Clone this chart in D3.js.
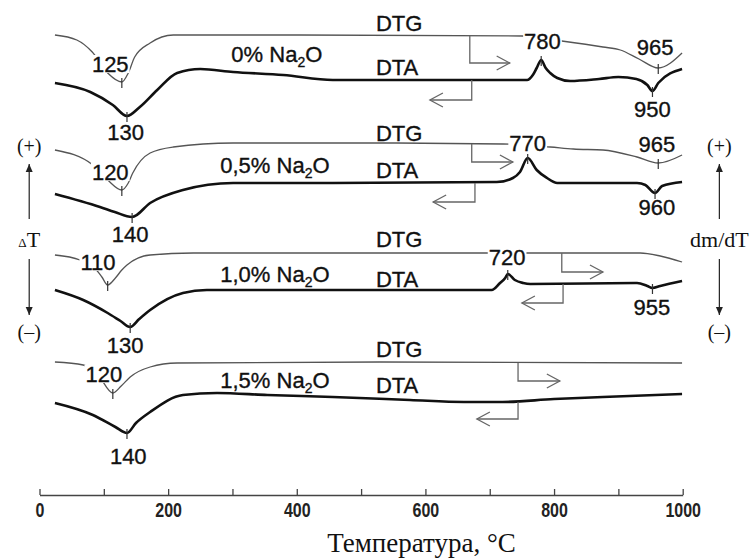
<!DOCTYPE html>
<html>
<head>
<meta charset="utf-8">
<script src="https://cdn.jsdelivr.net/npm/d3@7"></script>
<style>
    body { margin: 0; background: #fff; }
    svg { display: block; }
    .lbl { font-family: "Liberation Sans", Arial, sans-serif; font-size: 22px; fill: #111; stroke: #111; stroke-width: 0.35px; }
    .ser { font-family: "Liberation Serif", "Times New Roman", serif; fill: #111; }
</style>
</head>
<body>
<svg id="chart" width="753" height="559"></svg>
<script>
// temperature (°C), signal height above the axis (arbitrary units)
const dtg0 = [[24,460],[58,455],[82,443],[106,422],[128,413],[138,422],[148,438],[172,452],[208,460],[400,460],[750,459],[812,454],[876,448],[903,445],[932,436],[962,427],[999,442]];
const dta0 = [[24,412],[79,403],[114,390],[136,379],[156,388],[183,405],[214,422],[250,426],[301,423],[379,420],[456,415],[529,415],[669,415],[758,415],[767,420],[773,427],[780,435],[787,427],[794,422],[805,417],[825,414],[870,416],[900,418],[928,416],[945,410],[953,404],[962,412],[999,426]];
const dtg1 = [[24,345],[83,330],[106,315],[128,305],[138,312],[145,322],[172,342],[208,348],[301,352],[529,352],[721,351],[794,348],[830,346],[876,345],[929,338],[962,332],[999,340]];
const dta1 = [[24,301],[94,288],[117,283],[144,278],[172,292],[223,305],[301,312],[456,312],[711,313],[736,317],[747,323],[759,337],[773,325],[789,317],[805,312],[929,312],[942,310],[957,302],[968,309],[999,313]];
const dtg2 = [[24,240],[63,235],[86,227],[97,218],[106,210],[118,217],[128,225],[136,230],[172,240],[239,242],[690,242],[755,242],[934,242],[965,239],[999,233]];
const dta2 = [[24,205],[68,195],[106,182],[126,174],[141,168],[155,176],[172,185],[223,202],[260,205],[484,205],[703,205],[716,212],[724,217],[728,221],[739,215],[752,212],[763,211],[929,212],[945,209],[953,207],[965,209],[999,214]];
const dtg3 = [[24,133],[68,130],[91,120],[114,102],[127,109],[141,118],[172,128],[214,132],[529,133],[999,132]];
const dta3 = [[24,92],[83,80],[118,68],[136,62],[150,72],[172,83],[223,100],[276,102],[354,100],[456,98],[576,95],[660,93],[720,93],[800,96],[876,98],[999,101]];

const samples = ['0%', '0,5%', '1,0%', '1,5%'];
const sampleT = [369, 366, 366, 366];
const sampleH = [433, 322, 213, 107];

const dtgSeries = [dtg0, dtg1, dtg2, dtg3];
const dtaSeries = [dta0, dta1, dta2, dta3];

// labelled extrema: [series, temperature]
const extrema = [
    [dtg0, 128], [dtg0, 962], [dta0, 136], [dta0, 953], [dta0, 780],
    [dtg1, 128], [dtg1, 962], [dta1, 144], [dta1, 957], [dta1, 759],
    [dtg2, 106], [dta2, 141], [dta2, 953], [dta2, 728],
    [dtg3, 114], [dta3, 136]
];

// text labels: text, temperature, height of baseline, anchor, masked (white box behind)
const labels = [
    ['DTG', 523, 464, 'start'], ['DTA', 523, 420, 'start'],
    ['125', 110, 423, 'middle', true], ['130', 134, 355, 'middle'],
    ['780', 782, 446, 'middle', true], ['965', 957, 440, 'middle'], ['950', 953, 378, 'middle'],
    ['DTG', 523, 354, 'start'], ['DTA', 523, 317, 'start'],
    ['120', 110, 315, 'middle', true], ['140', 141, 253, 'middle'],
    ['770', 759, 344, 'middle', true], ['965', 960, 343, 'middle'], ['960', 960, 280, 'middle'],
    ['DTG', 523, 248, 'start'], ['DTA', 523, 208, 'start'],
    ['110', 91, 225, 'middle', true], ['130', 133, 142, 'middle'],
    ['720', 727, 230, 'middle', true], ['955', 952, 180, 'middle'],
    ['DTG', 523, 138, 'start'], ['DTA', 523, 102, 'start'],
    ['120', 100, 113, 'middle', true], ['140', 138, 31, 'middle']
];

// arrows that tie each curve to its side scale: temperature, top, bottom, end temperature
const arrows = [
    [669, 459, 432, 731], [672, 415, 395, 607],
    [672, 351, 333, 736], [677, 312, 293, 612],
    [812, 242, 223, 876], [814, 211, 192, 750],
    [744, 132, 114, 809], [744, 93, 76, 680]
];

const xTicks = d3.range(0, 1001, 100);

const x = d3.scaleLinear().domain([0, 1000]).range([39.5, 682.7]);
const y = d3.scaleLinear().domain([0, 480]).range([495, 15]);

const svg = d3.select('#chart');

svg.append('defs').append('marker')
    .attr('id', 'head')
    .attr('viewBox', '0 -4 8 8')
    .attr('refX', 8)
    .attr('refY', 0)
    .attr('orient', 'auto')
    .attr('markerUnits', 'userSpaceOnUse')
    .attr('markerWidth', 8)
    .attr('markerHeight', 8)
    .append('path')
    .attr('d', 'M0,-3.5L8,0L0,3.5Z')
    .attr('fill', '#222');

// x axis, ticks pointing up
const axis = d3.axisBottom(x)
    .tickValues(xTicks)
    .tickFormat(d => d % 200 === 0 ? d : '')
    .tickSize(-6)
    .tickSizeOuter(0)
    .tickPadding(8);

const gAxis = svg.append('g')
    .attr('transform', `translate(0,${y(0)})`)
    .call(axis);
gAxis.selectAll('path, line').attr('stroke', '#444').attr('stroke-width', 1.3);
gAxis.selectAll('text')
    .attr('font-family', '"Liberation Sans", Arial, sans-serif')
    .attr('font-weight', 'bold')
    .attr('font-size', 20)
    .attr('transform', 'scale(0.8,1)')
    .attr('fill', '#222');

svg.append('text')
    .attr('class', 'ser')
    .attr('x', x(594))
    .attr('y', y(-57))
    .attr('text-anchor', 'middle')
    .attr('font-size', 27)
    .text('Температура, °C');

// curves
const line = d3.line()
    .x(d => x(d[0]))
    .y(d => y(d[1]))
    .curve(d3.curveMonotoneX);

svg.append('g').selectAll('path')
    .data(dtgSeries)
    .join('path')
    .attr('d', line)
    .attr('fill', 'none')
    .attr('stroke', '#555')
    .attr('stroke-width', 1.3);

svg.append('g').selectAll('path')
    .data(dtaSeries)
    .join('path')
    .attr('d', line)
    .attr('fill', 'none')
    .attr('stroke', '#111')
    .attr('stroke-width', 2.6)
    .attr('stroke-linejoin', 'round');

// small ticks at labelled extrema
svg.append('g').selectAll('line')
    .data(extrema)
    .join('line')
    .attr('x1', d => x(d[1]))
    .attr('x2', d => x(d[1]))
    .attr('y1', d => y(d[0].find(p => p[0] === d[1])[1]) - 4)
    .attr('y2', d => y(d[0].find(p => p[0] === d[1])[1]) + 6)
    .attr('stroke', '#333')
    .attr('stroke-width', 1.2);

// curve arrows
const gArrows = svg.append('g')
    .attr('fill', 'none')
    .attr('stroke', '#666')
    .attr('stroke-width', 1.3);
arrows.forEach(([t, top, bottom, end]) => {
    const dir = Math.sign(end - t);
    const tx = x(end), ty = y(bottom);
    gArrows.append('path')
        .attr('d', `M${x(t)},${y(top)}V${ty}H${tx}`);
    gArrows.append('path')
        .attr('d', `M${tx - dir * 13},${ty - 7}L${tx},${ty}L${tx - dir * 13},${ty + 7}`);
});

// labels
const gLabels = svg.append('g');
labels.forEach(([text, t, h, anchor, mask]) => {
    const txt = gLabels.append('text')
        .attr('class', 'lbl')
        .attr('x', x(t))
        .attr('y', y(h))
        .attr('text-anchor', anchor)
        .text(text);
    if (mask) {
        const b = txt.node().getBBox();
        gLabels.insert('rect', () => txt.node())
            .attr('x', b.x - 1)
            .attr('y', y(h) - 17)
            .attr('width', b.width + 2)
            .attr('height', 18)
            .attr('fill', '#fff');
    }
});

// sample names
samples.forEach((s, i) => {
    const txt = gLabels.append('text')
        .attr('class', 'lbl')
        .attr('x', x(sampleT[i]))
        .attr('y', y(sampleH[i]))
        .attr('text-anchor', 'middle');
    txt.append('tspan').text(s + ' Na');
    txt.append('tspan').attr('font-size', 14).attr('dy', 5).text('2');
    txt.append('tspan').attr('dy', -5).text('O');
});

// side scales
function sideScale(t, topLabel, mid, bottomLabel) {
    const g = svg.append('g');
    g.append('text').attr('class', 'ser').attr('font-size', 20)
        .attr('x', x(t)).attr('y', y(342)).attr('text-anchor', 'middle').text(topLabel);
    g.append('line').attr('x1', x(t)).attr('x2', x(t))
        .attr('y1', y(276)).attr('y2', y(331))
        .attr('stroke', '#222').attr('stroke-width', 1.2)
        .attr('marker-end', 'url(#head)');
    mid(g.append('text').attr('class', 'ser').attr('font-size', 22)
        .attr('x', x(t)).attr('y', y(248)).attr('text-anchor', 'middle'));
    g.append('line').attr('x1', x(t)).attr('x2', x(t))
        .attr('y1', y(236)).attr('y2', y(180))
        .attr('stroke', '#222').attr('stroke-width', 1.2)
        .attr('marker-end', 'url(#head)');
    g.append('text').attr('class', 'ser').attr('font-size', 20)
        .attr('x', x(t)).attr('y', y(156)).attr('text-anchor', 'middle').text(bottomLabel);
}

sideScale(-16, '(+)', t => {
    t.append('tspan').attr('font-size', 13).text('Δ');
    t.append('tspan').text('T');
}, '(–)');
sideScale(1057, '(+)', t => t.text('dm/dT'), '(–)');
</script>
</body>
</html>
